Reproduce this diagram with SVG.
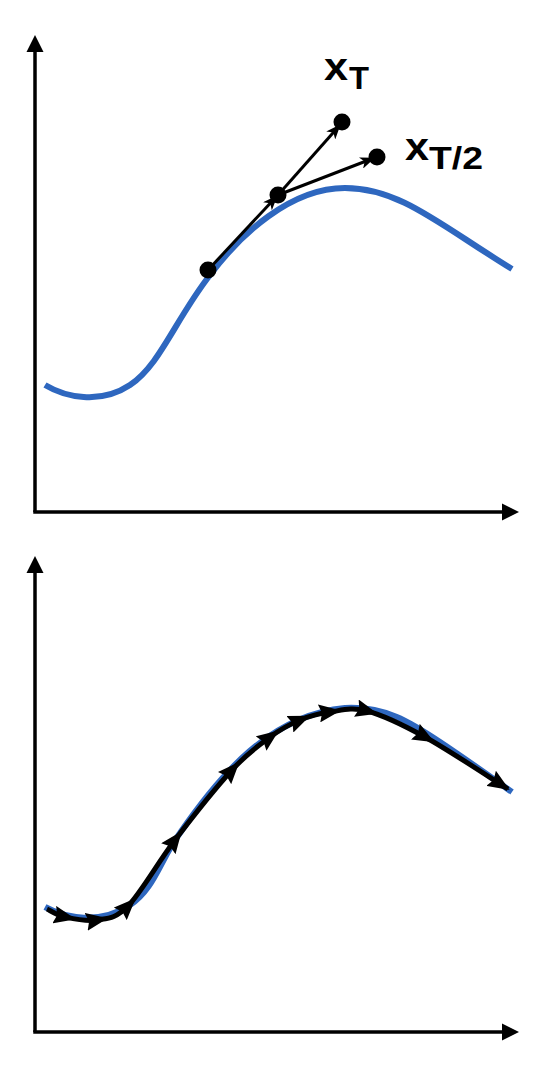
<svg xmlns="http://www.w3.org/2000/svg" width="556" height="1074" viewBox="0 0 556 1074">
<defs>
<style>
.axis{stroke:#000;stroke-width:3.5;fill:none}
.head{fill:#000}
.curve{stroke:#2E67BF;stroke-width:6;fill:none}
.vec{stroke:#000;stroke-width:3;fill:none}
.traj{stroke:#000;stroke-width:5;fill:none;stroke-linejoin:round}
.dot{fill:#000}
.lbl{font-family:"Liberation Sans",Arial,sans-serif;fill:#000;font-weight:bold}
</style>
<marker id="ah" viewBox="0 0 15 12" refX="14" refY="6" markerWidth="15" markerHeight="12" markerUnits="userSpaceOnUse" orient="auto">
<path d="M0,0 L15,6 L0,12 L4,6 Z" fill="#000"/>
</marker>
<marker id="ah2" viewBox="0 0 22 18" refX="11" refY="9" markerWidth="22" markerHeight="18" markerUnits="userSpaceOnUse" orient="auto">
<path d="M0,0 L22,9 L0,18 L3,9 Z" fill="#000"/>
</marker>
<marker id="ah3" viewBox="0 0 22 18" refX="20" refY="9" markerWidth="22" markerHeight="18" markerUnits="userSpaceOnUse" orient="auto">
<path d="M0,0 L22,9 L0,18 L3,9 Z" fill="#000"/>
</marker>
</defs>
<g id="top-axes">
<line class="axis" x1="35" y1="512" x2="35" y2="50"/>
<line class="axis" x1="33.25" y1="512" x2="504" y2="512"/>
<path class="head" d="M35,35 L43.5,52 L26.5,52 Z"/>
<path class="head" d="M519,512 L502,503.5 L502,520.5 Z"/>
</g>
<g id="top-curve">
<path class="curve" d="M45,385 C65,397 100,405 130,385 C160,365 175,320 210,275 C240,235 290,188 345,188 C400,188 440,225 512,269"/>
</g>
<g id="connectors">
<line class="vec" x1="208" y1="270" x2="277" y2="196" marker-end="url(#ah)"/>
<line class="vec" x1="278" y1="195" x2="340" y2="125" marker-end="url(#ah)"/>
<line class="vec" x1="278" y1="195" x2="374" y2="158" marker-end="url(#ah)"/>
</g>
<g id="dots">
<circle class="dot" cx="208" cy="270" r="8.5"/>
<circle class="dot" cx="278" cy="195" r="8.5"/>
<circle class="dot" cx="342" cy="122" r="8.5"/>
<circle class="dot" cx="377" cy="157" r="8.5"/>
</g>
<g id="label-xT">
<text class="lbl" x="324" y="80" font-size="38" textLength="24" lengthAdjust="spacingAndGlyphs">x</text>
<text class="lbl" x="349" y="89" font-size="32" textLength="20" lengthAdjust="spacingAndGlyphs">T</text>
</g>
<g id="label-xT2">
<text class="lbl" x="405" y="160" font-size="38" textLength="24" lengthAdjust="spacingAndGlyphs">x</text>
<text class="lbl" x="429" y="169" font-size="31" textLength="54" lengthAdjust="spacingAndGlyphs">T/2</text>
</g>
<g id="bottom-axes">
<line class="axis" x1="35" y1="1032" x2="35" y2="571"/>
<line class="axis" x1="33.25" y1="1032" x2="504" y2="1032"/>
<path class="head" d="M35,556 L43.5,573 L26.5,573 Z"/>
<path class="head" d="M519,1032 L502,1023.5 L502,1040.5 Z"/>
</g>
<g id="bottom-curve">
<path class="curve" d="M45,907 C65,918 100,925 130,905 C155,888 160,860 180,833 C220,775 270,715 345,708 C385,706 410,722 440,742 C470,762 495,780 512,792"/>
</g>
<g id="trajectory">
<path class="traj" marker-mid="url(#ah2)" marker-end="url(#ah3)" d="M47,909 C50,910.3 56.7,915.2 65,917 C73.3,918.8 86.5,921.8 97,920 C107.5,918.2 115,919.3 128,906 C141,892.7 157.7,862.7 175,840 C192.3,817.3 216.2,787.2 232,770 C247.8,752.8 258.7,745.3 270,737 C281.3,728.7 290,724.2 300,720 C310,715.8 318.8,713.5 330,712 C341.2,710.5 351.2,706.8 367,711 C382.8,715.2 401.5,724 425,737 C448.5,750 494.2,780.3 508,789"/>
</g>
</svg>
